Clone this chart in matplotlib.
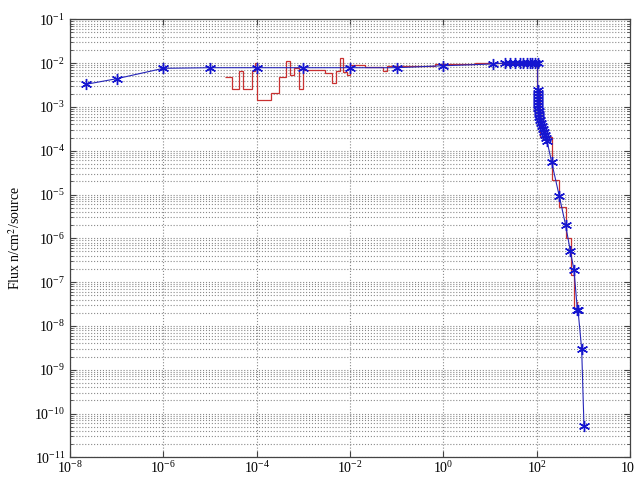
import numpy as np
import matplotlib
matplotlib.use("Agg")
import matplotlib.pyplot as plt
from matplotlib.ticker import LogLocator, NullLocator, NullFormatter

plt.rcParams["font.family"] = "Liberation Serif"
plt.rcParams["mathtext.fontset"] = "stix"

# blue curve (energy, flux) with * markers
blue_e = [2.2e-8, 1.0e-7, 1.0e-6, 1.0e-5, 1.0e-4, 1.0e-3, 1.0e-2, 0.1, 1.0,
          11.4, 21, 26.8, 34.3, 43.9, 51.6, 61, 71.8, 80.5, 92, 105,
          105, 105, 106, 106.5, 107, 108, 109, 110.5, 112, 115, 118, 124,
          130, 136.5, 143.5, 150.6, 158, 166.5,
          210, 305, 418, 525, 630, 745, 770, 921, 1032]
blue_f = [3.28e-3, 4.4e-3, 7.6e-3, 7.85e-3, 7.85e-3, 7.85e-3, 7.85e-3, 7.85e-3, 8.7e-3,
          9.55e-3, 1.0e-2, 1.0e-2, 1.0e-2, 1.0e-2, 1.0e-2, 1.0e-2, 1.0e-2, 1.0e-2, 1.0e-2, 1.0e-2,
          2.43e-3, 2.08e-3, 1.77e-3, 1.51e-3, 1.29e-3, 1.10e-3, 9.4e-4, 8.05e-4, 6.9e-4, 5.9e-4,
          5.0e-4, 4.3e-4, 3.66e-4, 3.13e-4, 2.67e-4, 2.28e-4, 1.95e-4, 1.66e-4,
          5.4e-5, 9.2e-6, 1.98e-6, 5.2e-7, 1.89e-7, 2.35e-8, 2.25e-8, 2.97e-9, 5.3e-11]

# red histogram (bin edges, bin values)
red_edges = [2.1e-5, 3.0e-5, 4.25e-5, 5.2e-5, 8.0e-5, 9.2e-5, 1.03e-4, 2.0e-4, 3.05e-4,
             4.25e-4, 5.2e-4, 6.3e-4, 8.1e-4, 9.7e-4, 2.9e-3, 4.05e-3, 5.0e-3, 6.1e-3,
             7.2e-3, 8.5e-3, 1e-2, 2.1e-2, 5.1e-2, 6.2e-2, 0.66, 4.8, 102, 118, 210,
             305, 425, 535, 630, 720, 767]
red_vals = [4.9e-3, 2.52e-3, 6.7e-3, 2.52e-3, 6.7e-3, 9.9e-3, 1.44e-3, 2.05e-3, 4.9e-3,
            1.12e-2, 5.35e-3, 7.6e-3, 2.52e-3, 6.95e-3, 5.85e-3, 3.46e-3, 6.7e-3, 1.29e-2,
            6.4e-3, 5.35e-3, 9.05e-3, 8.15e-3, 6.7e-3, 8.45e-3, 9.3e-3, 9.9e-3, 2.43e-3,
            2.02e-4, 2.14e-5, 5.3e-6, 1.0e-6, 1.45e-7, 2.5e-8, 3.57e-8]

fig = plt.figure(figsize=(6.34, 4.8), dpi=100)
ax = fig.add_axes([70 / 634, 1 - 457.3 / 480, 560 / 634, 438 / 480])

ax.stairs(red_vals, red_edges, baseline=None, color="#c83030", linewidth=0.9, zorder=3)
ax.plot(blue_e, blue_f, color="#2626b8", linewidth=0.8, marker=(6, 2, 0), markersize=8,
        markeredgewidth=1.0, markeredgecolor="#1515d0", zorder=4)

ax.set_xscale("log")
ax.set_yscale("log")
ax.set_xlim(1e-8, 1e4)
ax.set_ylim(1e-11, 1e-1)

ax.xaxis.set_major_locator(LogLocator(base=100))
ax.xaxis.set_minor_locator(NullLocator())
ax.yaxis.set_major_locator(LogLocator(base=10, numticks=20))
ax.yaxis.set_minor_locator(LogLocator(base=10, subs=np.arange(2, 10), numticks=20))
ax.yaxis.set_minor_formatter(NullFormatter())

ax.grid(True, which="major", linestyle=":", color="#8a8a8a", linewidth=0.8)
ax.grid(True, which="minor", axis="y", linestyle=":", color="#8a8a8a", linewidth=0.8)

ax.tick_params(which="both", direction="in", top=True, right=True, labelsize=10,
               color="#444444")
ax.tick_params(which="major", length=4)
ax.tick_params(which="minor", length=2)
ax.tick_params(axis="x", pad=2)
for s in ax.spines.values():
    s.set_color("#444444")
    s.set_linewidth(0.9)

ax.set_ylabel("Flux n/cm$^2$/source", fontsize=10, labelpad=8)

fig.savefig("out.png", dpi=100)
